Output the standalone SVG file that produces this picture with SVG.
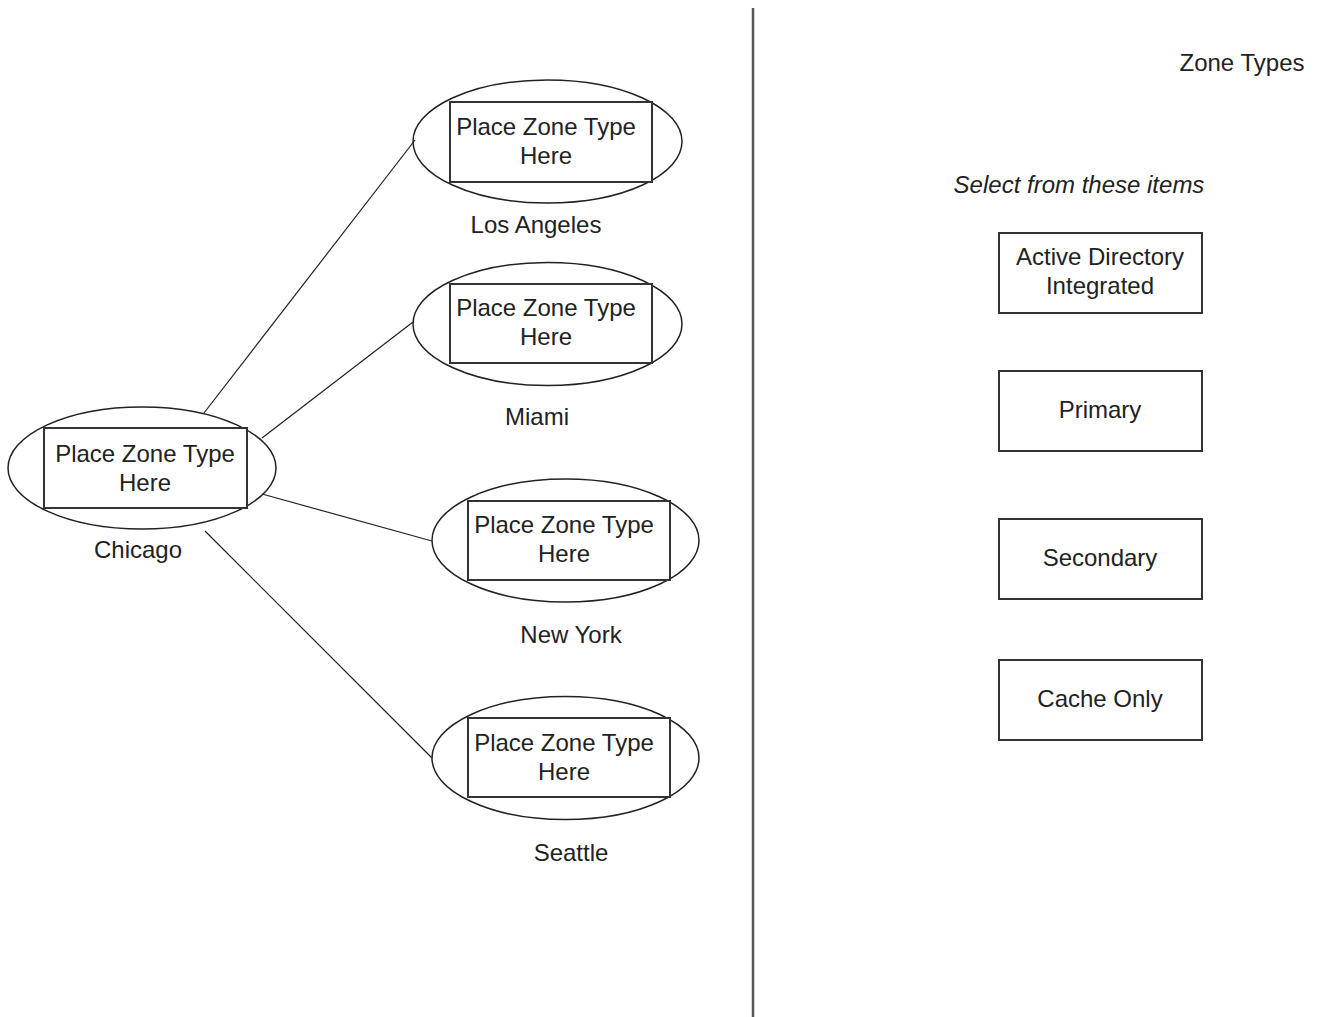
<svg xmlns="http://www.w3.org/2000/svg" width="1318" height="1017" viewBox="0 0 1318 1017">
<style>
.ell{fill:none;stroke:#222;stroke-width:1.5}
.box{fill:#fff;stroke:#333;stroke-width:2}
.t{font-family:"Liberation Sans",Arial,sans-serif;font-size:24px;fill:#222;text-anchor:middle}
.it{font-style:italic}
.conn line{stroke:#222;stroke-width:1.2}
</style>
<rect x="0" y="0" width="1318" height="1017" fill="#fff"/>
<line x1="753" y1="8" x2="753" y2="1017" stroke="#555" stroke-width="2.5"/>
<g id="connectors" class="conn">
<line x1="204" y1="413" x2="415" y2="140"/>
<line x1="262" y1="438" x2="413" y2="322"/>
<line x1="262" y1="494" x2="432" y2="541"/>
<line x1="205" y1="531" x2="432" y2="758"/>
</g>
<g id="chicago">
<ellipse class="ell" cx="142" cy="468" rx="134" ry="61"/>
<rect class="box" x="44" y="428" width="203" height="80"/>
<text class="t" x="145" y="462">Place Zone Type</text>
<text class="t" x="145" y="491">Here</text>
<text class="t" x="138" y="558">Chicago</text>
</g>
<g id="losangeles">
<ellipse class="ell" cx="547.5" cy="141.5" rx="134.5" ry="61.5"/>
<rect class="box" x="450" y="102" width="202" height="80"/>
<text class="t" x="546" y="135">Place Zone Type</text>
<text class="t" x="546" y="164">Here</text>
<text class="t" x="536" y="233">Los Angeles</text>
</g>
<g id="miami">
<ellipse class="ell" cx="547.5" cy="324" rx="134.5" ry="61.5"/>
<rect class="box" x="450" y="284" width="202" height="79"/>
<text class="t" x="546" y="316">Place Zone Type</text>
<text class="t" x="546" y="345">Here</text>
<text class="t" x="537" y="425">Miami</text>
</g>
<g id="newyork">
<ellipse class="ell" cx="565.5" cy="540.5" rx="133.5" ry="61.5"/>
<rect class="box" x="468" y="501" width="202" height="79"/>
<text class="t" x="564" y="533">Place Zone Type</text>
<text class="t" x="564" y="562">Here</text>
<text class="t" x="571" y="643">New York</text>
</g>
<g id="seattle">
<ellipse class="ell" cx="565.5" cy="758" rx="133.5" ry="61.5"/>
<rect class="box" x="468" y="718" width="202" height="79"/>
<text class="t" x="564" y="751">Place Zone Type</text>
<text class="t" x="564" y="780">Here</text>
<text class="t" x="571" y="861">Seattle</text>
</g>
<g id="zonetypes">
<text class="t" x="1242" y="71">Zone Types</text>
<text class="t it" x="1079" y="193">Select from these items</text>
</g>
<g id="adi">
<rect class="box" x="999" y="233" width="203" height="80"/>
<text class="t" x="1100" y="265">Active Directory</text>
<text class="t" x="1100" y="294">Integrated</text>
</g>
<g id="primary">
<rect class="box" x="999" y="371" width="203" height="80"/>
<text class="t" x="1100" y="418">Primary</text>
</g>
<g id="secondary">
<rect class="box" x="999" y="519" width="203" height="80"/>
<text class="t" x="1100" y="566">Secondary</text>
</g>
<g id="cacheonly">
<rect class="box" x="999" y="660" width="203" height="80"/>
<text class="t" x="1100" y="707">Cache Only</text>
</g>
</svg>
